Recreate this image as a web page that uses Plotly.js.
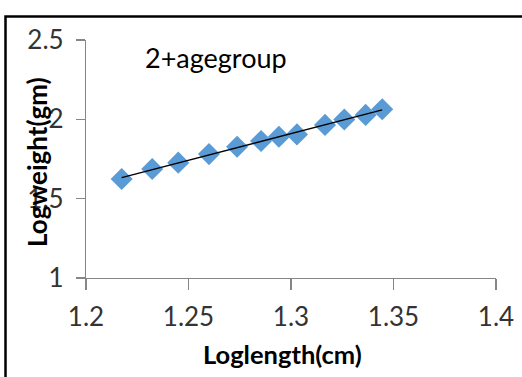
<!DOCTYPE html>
<html>
<head>
<meta charset="utf-8">
<script src="https://cdn.plot.ly/plotly-3.0.1.min.js"></script>
<style>html,body{margin:0;padding:0;background:#fff;}#chart{width:522px;height:377px;}</style>
</head>
<body>
<div id="chart"></div>
<script>
const logLength = [1.2174, 1.2323, 1.2450, 1.2600, 1.2737, 1.2854, 1.2941, 1.3029, 1.3166, 1.3260, 1.3364, 1.3445];
const logWeight = [1.624, 1.687, 1.727, 1.781, 1.827, 1.863, 1.890, 1.905, 1.965, 1.999, 2.028, 2.064];
const xTicks = [1.2, 1.25, 1.3, 1.35, 1.4];
const xTickText = ['1.2', '1.25', '1.3', '1.35', '1.4'];
const yTicks = [1, 1.5, 2, 2.5];
const yTickText = ['1', '1.5', '2', '2.5'];
const chartLabel = '2+agegroup';
const xTitle = 'Loglength(cm)';
const yTitle = 'Logweight(gm)';

// least-squares linear trendline from the data
const n = logLength.length;
const mx = logLength.reduce((a, b) => a + b, 0) / n;
const my = logWeight.reduce((a, b) => a + b, 0) / n;
let sxy = 0, sxx = 0;
for (let i = 0; i < n; i++) { sxy += (logLength[i] - mx) * (logWeight[i] - my); sxx += (logLength[i] - mx) ** 2; }
const slope = sxy / sxx, icpt = my - slope * mx;
const trendX = [logLength[0], logLength[n - 1]];
const trendY = trendX.map(x => icpt + slope * x);

const font = 'Lato, "Open Sans", sans-serif';
const W = 522, H = 377, L = 86, R = 26, T = 39.5, B = 98.5;
const pw = W - L - R, ph = H - T - B;
const px = x => (x - L) / pw;
const py = y => (H - B - y) / ph;

const traces = [
  {x: logLength, y: logWeight, mode: 'markers', type: 'scatter',
   marker: {symbol: 'diamond', size: 17, color: '#5B9BD5'}, hoverinfo: 'x+y'},
  {x: trendX, y: trendY, mode: 'lines', type: 'scatter',
   line: {color: '#000000', width: 1.3}, hoverinfo: 'skip'}
];

const axisCommon = {
  showgrid: false, zeroline: false, showline: true, linecolor: '#868686', linewidth: 1.2,
  ticks: 'outside', tickcolor: '#868686', tickwidth: 1.2,
  tickfont: {family: font, size: 26, color: '#333333'}, tickmode: 'array', fixedrange: true
};

const layout = {
  width: W, height: H, showlegend: false,
  paper_bgcolor: '#ffffff', plot_bgcolor: '#ffffff',
  margin: {l: L, r: R, t: T, b: B, pad: 0},
  xaxis: Object.assign({}, axisCommon, {range: [1.2, 1.4], tickvals: xTicks, ticktext: xTickText,
    ticklen: 11, ticklabelstandoff: 5}),
  yaxis: Object.assign({}, axisCommon, {range: [1, 2.5], tickvals: yTicks, ticktext: yTickText,
    ticklen: 9, ticklabelstandoff: 7}),
  shapes: [
    {type: 'rect', xref: 'paper', yref: 'paper', x0: px(5.5), y0: py(420), x1: px(560), y1: py(16),
     line: {color: '#000000', width: 2.5}, fillcolor: 'rgba(0,0,0,0)', layer: 'below'}
  ],
  annotations: [
    {text: chartLabel, xref: 'paper', yref: 'paper', x: px(143), y: py(57), xanchor: 'left', yanchor: 'middle',
     showarrow: false, font: {family: font, size: 27, color: '#000000'}},
    {text: '<b>' + xTitle + '</b>', xref: 'paper', yref: 'paper', x: px(282), y: py(355), xanchor: 'center', yanchor: 'middle',
     showarrow: false, font: {family: font, size: 25.5, color: '#000000'}},
    {text: '<b>' + yTitle + '</b>', xref: 'paper', yref: 'paper', x: px(37), y: py(162), xanchor: 'center', yanchor: 'middle',
     textangle: -90, showarrow: false, font: {family: font, size: 26, color: '#000000'}}
  ]
};

Plotly.newPlot('chart', traces, layout, {displayModeBar: false, staticPlot: true});
</script>
</body>
</html>
